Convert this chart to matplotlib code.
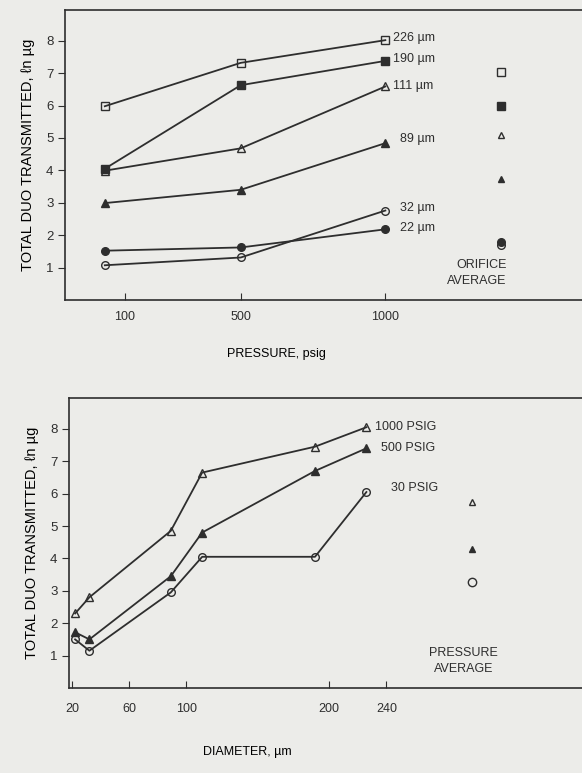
import matplotlib.pyplot as plt

# top panel: total DUO vs pressure, one line per orifice
pressure = [30, 500, 1000]
orifices = ["226 µm", "190 µm", "111 µm", "89 µm", "32 µm", "22 µm"]
duo_226 = [5.98, 7.32, 8.02]
duo_190 = [4.05, 6.63, 7.38]
duo_111 = [3.99, 4.68, 6.59]
duo_89 = [2.99, 3.40, 4.84]
duo_32 = [1.07, 1.31, 2.76]
duo_22 = [1.52, 1.62, 2.18]
orifice_avg = [7.04, 5.98, 5.08, 3.72, 1.70, 1.80]

# bottom panel: total DUO vs diameter, one line per pressure
diameter = [22, 32, 89, 111, 190, 226]
psig_1000 = [2.30, 2.80, 4.85, 6.65, 7.45, 8.05]
psig_500 = [1.72, 1.50, 3.45, 4.80, 6.70, 7.40]
psig_30 = [1.50, 1.15, 2.95, 4.05, 4.05, 6.05]
pressure_labels = ["1000 PSIG", "500 PSIG", "30 PSIG"]
pressure_avg = [5.73, 4.28, 3.28]

ink = '#2e2e2e'
paper = '#ecece9'
plt.rcParams['font.family'] = ['Liberation Sans', 'DejaVu Sans']
plt.rcParams['text.color'] = ink
plt.rcParams['xtick.color'] = ink
plt.rcParams['ytick.color'] = ink

fig = plt.figure(figsize=(5.82, 7.73), dpi=100, facecolor=paper)

def style(ax, xpad):
    ax.set_facecolor(paper)
    for s in ['left', 'bottom', 'top']:
        ax.spines[s].set_color(ink)
        ax.spines[s].set_linewidth(1.2)
    ax.spines['right'].set_visible(False)
    ax.tick_params(axis='x', direction='in', length=5, labelsize=9, pad=xpad)
    ax.tick_params(axis='y', direction='out', length=5, labelsize=9.5)
    ax.set_yticks(range(1, 9))
    ax.set_ylim(0, 8.95)

# ---- top ----
ax1 = fig.add_axes([0.112, 0.612, 0.888, 0.375])
style(ax1, 8)
series = [duo_226, duo_190, duo_111, duo_89, duo_32, duo_22]
mk = [('s', 'none'), ('s', ink), ('^', 'none'), ('^', ink), ('o', 'none'), ('o', ink)]
for vals, (m, fc) in zip(series, mk):
    ax1.plot(pressure, vals, color=ink, lw=1.3, marker=m, ms=5.5, mfc=fc, mec=ink, mew=1.0)

for v, (m, fc) in zip(orifice_avg, mk):
    ax1.plot(1400, v, marker=m, ms=5.5 if m != '^' else 5, mfc=fc, mec=ink, mew=1.0, ls='none')

lab_y = [8.1, 7.45, 6.6, 4.97, 2.85, 2.23]
lab_x = [1025, 1025, 1025, 1050, 1050, 1050]
for t, lx, ly in zip(orifices, lab_x, lab_y):
    ax1.text(lx, ly, t, fontsize=9, va='center', ha='left')
ax1.text(1420, 0.84, "ORIFICE\nAVERAGE", fontsize=9, ha='right', va='center', linespacing=1.45)

ax1.set_xlim(-107, 1680)
ax1.set_xticks([100, 500, 1000])
ax1.set_xlabel("PRESSURE, psig", fontsize=9, labelpad=18, x=0.313, ha='left')
ax1.set_ylabel("TOTAL DUO TRANSMITTED, ℓn µg", fontsize=10.5, labelpad=8)

# ---- bottom ----
ax2 = fig.add_axes([0.119, 0.110, 0.881, 0.375])
style(ax2, 11)
lines2 = [psig_1000, psig_500, psig_30]
mk2 = [('^', 'none'), ('^', ink), ('o', 'none')]
for vals, (m, fc) in zip(lines2, mk2):
    ax2.plot(diameter, vals, color=ink, lw=1.3, marker=m, ms=5.5, mfc=fc, mec=ink, mew=1.0)
for v, (m, fc) in zip(pressure_avg, mk2):
    ax2.plot(300, v, marker=m, ms=6 if m == 'o' else 5, mfc=fc, mec=ink, mew=1.0, ls='none')

lab2_y = [8.05, 7.4, 6.18]
lab2_x = [232, 236, 243]
for t, lx, ly in zip(pressure_labels, lab2_x, lab2_y):
    ax2.text(lx, ly, t, fontsize=9, va='center', ha='left')
ax2.text(294, 0.82, "PRESSURE\nAVERAGE", fontsize=9, ha='center', va='center', linespacing=1.45)

ax2.set_xlim(17.9, 377)
ax2.set_xticks([20, 60, 100, 200, 240])
ax2.set_xlabel("DIAMETER, µm", fontsize=9, labelpad=22, x=0.261, ha='left')
ax2.set_ylabel("TOTAL DUO TRANSMITTED, ℓn µg", fontsize=10.5, labelpad=8)

fig.savefig("out.png", dpi=100, facecolor=paper)
